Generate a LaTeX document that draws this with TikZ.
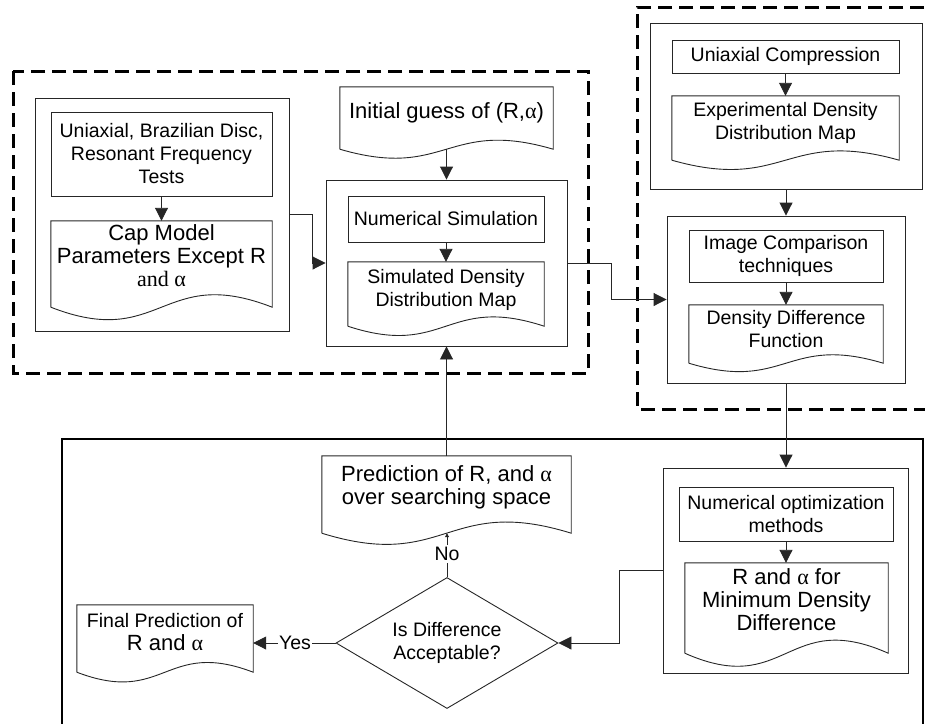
\documentclass[tikz,border=0pt]{standalone}
\usepackage{fontspec}
\setmainfont{Liberation Sans}
\newfontfamily\grk{Liberation Serif}
\usetikzlibrary{arrows.meta,shapes.geometric,calc}
\newcommand\al{{\grk α}}
\newcommand\wavedoc[1]{\draw[docline] (#1.south west) -- (#1.north west) -- (#1.north east) -- (#1.south east) .. controls ($(#1.south)!0.5!(#1.north)$) and ($(#1.south)!-0.5!(#1.north)$) .. (#1.south west);}
\begin{document}
\begin{tikzpicture}[x=1pt,y=-1pt,
  box/.style={draw=black!85, line width=0.9pt, inner sep=0pt},
  doc/.style={inner sep=0pt},
  docline/.style={draw=black!85, line width=0.9pt},
  tx/.style={font=\fontsize{19.5}{23}\selectfont, align=center, inner sep=0pt},
  tb/.style={font=\fontsize{22}{23}\selectfont, align=center, inner sep=0pt},
  arr/.style={draw=black!85, line width=0.9pt, -{Triangle[length=13pt,width=13pt]}},
  dashbox/.style={line width=3pt, dash pattern=on 14pt off 7pt},
]
\useasboundingbox (0,0) rectangle (925,723);
\clip (0,0) rectangle (925,723);

% dashed groups and outer frame
\draw[dashbox] (13,71) rectangle (588,373);
\draw[dashbox] (945,7) -- (637,7) -- (637,409) -- (945,409);
\draw[line width=1.8pt] (62,745) -- (62,439) -- (923,439) -- (923,745);

% left group
\node[box, minimum width=254pt, minimum height=233pt] (capgrp) at (162,214.5) {};
\node[box, tx, minimum width=221pt, minimum height=84pt] (uni) at (161.5,154) {Uniaxial, Brazilian Disc,\\Resonant Frequency\\Tests};
\node[doc, minimum width=221pt, minimum height=86pt] (cap) at (161.5,264) {};
\wavedoc{cap}
\node[tb] (capT) at (161.5,256) {Cap Model\\Parameters Except R\\{\grk and α}};

% middle group
\node[doc, minimum width=213pt, minimum height=62pt] (init) at (446.5,118) {};
\wavedoc{init}
\node[tb] (initT) at (446.5,113) {Initial guess of (R,\al)};
\node[box, minimum width=241pt, minimum height=166pt] (midgrp) at (446.5,263) {};
\node[box, tx, minimum width=196pt, minimum height=46pt] (numsim) at (446,219) {Numerical Simulation};
\node[doc, minimum width=196pt, minimum height=64pt] (sim) at (446,294) {};
\wavedoc{sim}
\node[tx] (simT) at (446,290) {Simulated Density\\Distribution Map};

% right group
\node[box, minimum width=272pt, minimum height=166pt] (expgrp) at (786,106) {};
\node[box, tx, minimum width=227pt, minimum height=33pt] (uc) at (785.5,56.5) {Uniaxial Compression};
\node[doc, minimum width=227pt, minimum height=64pt] (exp) at (785.5,128) {};
\wavedoc{exp}
\node[tx] (expT) at (785.5,122.5) {Experimental Density\\Distribution Map};

\node[box, minimum width=238pt, minimum height=167pt] (imggrp) at (786,299.5) {};
\node[box, tx, minimum width=194pt, minimum height=52pt] (img) at (786,256) {Image Comparison\\techniques};
\node[doc, minimum width=194pt, minimum height=58pt] (dd) at (786,334) {};
\wavedoc{dd}
\node[tx] (ddT) at (786,329) {Density Difference\\Function};

% bottom
\node[box, minimum width=245pt, minimum height=205pt] (optgrp) at (785.5,570.5) {};
\node[box, tx, minimum width=214pt, minimum height=54pt] (opt) at (786,514) {Numerical optimization\\methods};
\node[doc, minimum width=203pt, minimum height=90pt] (ra) at (786.5,608) {};
\wavedoc{ra}
\node[tb] (raT) at (786.5,599.5) {R and \al{} for\\Minimum Density\\Difference};

\node[doc, minimum width=249pt, minimum height=77pt] (pred) at (446.5,494.5) {};
\wavedoc{pred}
\node[tb] (predT) at (446.5,487.5) {Prediction of R, and \al\\over searching space};

\node[draw=black!85, line width=0.9pt, diamond, aspect=1.69, inner sep=0pt, minimum width=222pt, minimum height=131pt, tx] (dia) at (447,643) {Is Difference\\Acceptable?};

\node[doc, minimum width=176pt, minimum height=67pt] (final) at (165,638.5) {};
\wavedoc{final}
\node[tx] (finalT) at (165,632) {Final Prediction of\\{\fontsize{22}{23}\selectfont R and \al}};

% connectors
\draw[arr] (uni.south) -- (cap.north);
\draw[arr] (capgrp.east) -- ($(capgrp.east)+(23,0)$) |- (midgrp.west);
\draw[arr] (init.south) -- (midgrp.north);
\draw[arr] (numsim.south) -- (sim.north);
\draw[arr] (midgrp.east) -- ($(midgrp.east)+(44,0)$) |- (imggrp.west);
\draw[arr] (uc.south) -- (exp.north);
\draw[arr] (expgrp.south) -- (imggrp.north);
\draw[arr] (img.south) -- (dd.north);
\draw[arr] (imggrp.south) -- (imggrp.south |- optgrp.north);
\draw[arr] (opt.south) -- (opt.south |- ra.north);
\draw[arr] (optgrp.west) -- ($(optgrp.west)+(-43,0)$) |- (dia.east);
\draw[arr] (pred.north) -- (midgrp.south);
\draw[draw=black!85, line width=0.9pt, -{Triangle[length=4pt,width=4pt]}] (dia.north) -- (dia.north |- pred.south);
\node[tx, fill=white, inner ysep=2pt] (no) at (447,554) {No};
\draw[arr] (dia.west) -- (dia.west -| final.east);
\node[tx, fill=white, inner xsep=1pt] (yes) at (295,643) {Yes};
\end{tikzpicture}
\end{document}
